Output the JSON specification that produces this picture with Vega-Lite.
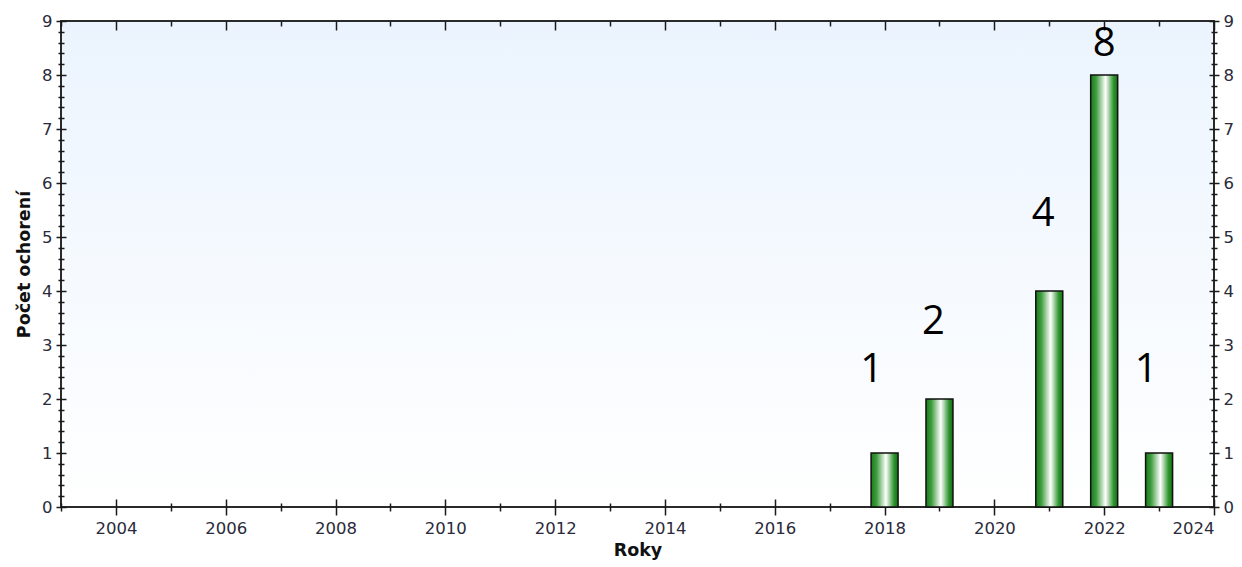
{
  "$schema": "https://vega.github.io/schema/vega-lite/v6.json",
  "width": 1153,
  "height": 486,
  "autosize": "none",
  "padding": {"left": 61, "top": 21, "right": 28, "bottom": 60},
  "background": "white",
  "config": {
    "view": {
      "fill": {"gradient": "linear", "x1": 0, "y1": 0, "x2": 0, "y2": 1, "stops": [{"offset": 0, "color": "#ebf4fe"}, {"offset": 1, "color": "#ffffff"}]},
      "stroke": "#2a2a2a",
      "strokeWidth": 2
    },
    "axis": {
      "domain": false,
      "grid": false,
      "tickColor": "#1a1a1a",
      "tickWidth": 1.5,
      "labelFont": "DejaVu Sans",
      "labelFontSize": 16.5,
      "labelColor": "#2a2a3a",
      "titleFont": "DejaVu Sans",
      "titleFontSize": 17.5,
      "titleFontWeight": "bold",
      "titleColor": "#111111"
    }
  },
  "data": {
    "values": [
      {"year": 2018, "count": 1},
      {"year": 2019, "count": 2},
      {"year": 2021, "count": 4},
      {"year": 2022, "count": 8},
      {"year": 2023, "count": 1}
    ]
  },
  "resolve": {"axis": {"x": "independent", "y": "independent"}},
  "layer": [
    {
      "mark": {
        "type": "bar",
        "size": 27,
        "stroke": "#111111",
        "strokeWidth": 1.5,
        "color": {"gradient": "linear", "x1": 0, "y1": 0, "x2": 1, "y2": 0, "stops": [
          {"offset": 0, "color": "#1b7a1b"},
          {"offset": 0.2, "color": "#3d9c3d"},
          {"offset": 0.55, "color": "#ffffff"},
          {"offset": 0.85, "color": "#2e952e"},
          {"offset": 1, "color": "#137013"}
        ]}
      },
      "encoding": {
        "x": {
          "field": "year", "type": "quantitative",
          "scale": {"domain": [2003, 2024], "nice": false, "zero": false, "padding": 0},
          "axis": {"orient": "bottom", "values": [2004, 2006, 2008, 2010, 2012, 2014, 2016, 2018, 2020, 2022, 2024], "format": "d", "tickSize": 16, "offset": -8, "labelPadding": 5, "title": "Roky", "titlePadding": 5}
        },
        "y": {
          "field": "count", "type": "quantitative",
          "scale": {"domain": [0, 9], "nice": false, "zero": true, "padding": 0},
          "axis": {"orient": "left", "values": [0, 1, 2, 3, 4, 5, 6, 7, 8, 9], "tickSize": 10, "offset": -5, "labelPadding": 4, "title": "Počet ochorení", "titlePadding": 8}
        }
      }
    },
    {
      "transform": [{"filter": "datum.count == 1"}],
      "mark": {"type": "text", "font": "Open Sans", "fontSize": 40, "color": "#000000", "baseline": "middle", "align": "center", "dy": -83, "dx": -13},
      "encoding": {
        "x": {"field": "year", "type": "quantitative",
          "axis": {"orient": "bottom", "values": [2003, 2005, 2007, 2009, 2011, 2013, 2015, 2017, 2019, 2021, 2023], "tickSize": 8, "offset": -4, "labels": false, "title": null}},
        "y": {"field": "count", "type": "quantitative",
          "axis": {"orient": "left", "values": [0.2, 0.4, 0.6, 0.8, 1.2, 1.4, 1.6, 1.8, 2.2, 2.4, 2.6, 2.8, 3.2, 3.4, 3.6, 3.8, 4.2, 4.4, 4.6, 4.8, 5.2, 5.4, 5.6, 5.8, 6.2, 6.4, 6.6, 6.8, 7.2, 7.4, 7.6, 7.8, 8.2, 8.4, 8.6, 8.8], "tickSize": 6, "offset": -3, "labels": false, "title": null}},
        "text": {"field": "count", "type": "quantitative"}
      }
    },
    {
      "transform": [{"filter": "datum.count == 2 || datum.count == 4"}],
      "mark": {"type": "text", "font": "Open Sans", "fontSize": 40, "color": "#000000", "baseline": "middle", "align": "center", "dy": -77, "dx": -6},
      "encoding": {
        "x": {"field": "year", "type": "quantitative",
          "axis": {"orient": "top", "values": [2004, 2006, 2008, 2010, 2012, 2014, 2016, 2018, 2020, 2022, 2024], "tickSize": -9, "labels": false, "title": null}},
        "y": {"field": "count", "type": "quantitative",
          "axis": {"orient": "right", "values": [0, 1, 2, 3, 4, 5, 6, 7, 8, 9], "tickSize": 10, "offset": -5, "labelPadding": 4, "title": null}},
        "text": {"field": "count", "type": "quantitative"}
      }
    },
    {
      "transform": [{"filter": "datum.count == 8"}],
      "mark": {"type": "text", "font": "Open Sans", "fontSize": 40, "color": "#000000", "baseline": "middle", "align": "center", "dy": -31, "dx": 0},
      "encoding": {
        "x": {"field": "year", "type": "quantitative",
          "axis": {"orient": "top", "values": [2003, 2005, 2007, 2009, 2011, 2013, 2015, 2017, 2019, 2021, 2023], "tickSize": -5, "labels": false, "title": null}},
        "y": {"field": "count", "type": "quantitative",
          "axis": {"orient": "right", "values": [0.2, 0.4, 0.6, 0.8, 1.2, 1.4, 1.6, 1.8, 2.2, 2.4, 2.6, 2.8, 3.2, 3.4, 3.6, 3.8, 4.2, 4.4, 4.6, 4.8, 5.2, 5.4, 5.6, 5.8, 6.2, 6.4, 6.6, 6.8, 7.2, 7.4, 7.6, 7.8, 8.2, 8.4, 8.6, 8.8], "tickSize": 6, "offset": -3, "labels": false, "title": null}},
        "text": {"field": "count", "type": "quantitative"}
      }
    }
  ]
}
